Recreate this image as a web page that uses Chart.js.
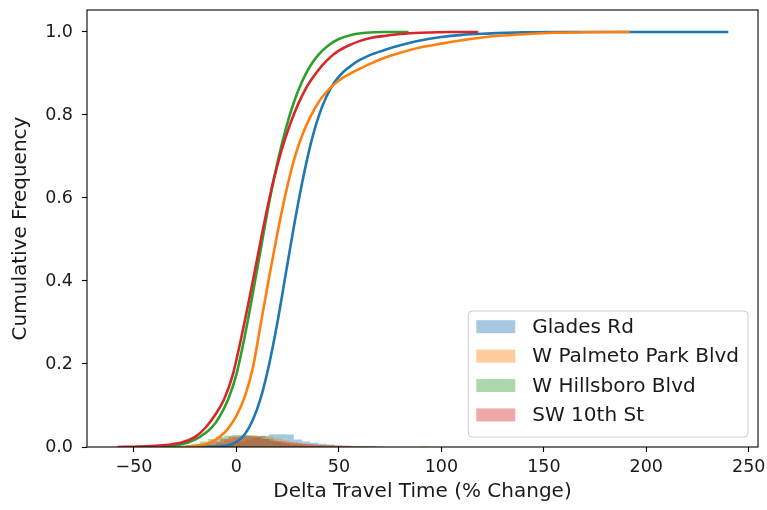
<!DOCTYPE html>
<html><head><meta charset="utf-8">
<script src="https://cdn.jsdelivr.net/npm/chart.js@4/dist/chart.umd.min.js"></script>
<style>html,body{margin:0;padding:0;background:#fff;} #wrap{width:767px;height:510px;position:relative;}</style>
</head><body><div id="wrap"><canvas id="c"></canvas></div>
<script>
// ---------- data ----------
const seriesLabels = ['Glades Rd', 'W Palmeto Park Blvd', 'W Hillsboro Blvd', 'SW 10th St'];
const xTitle = 'Delta Travel Time (% Change)';
const yTitle = 'Cumulative Frequency';
const xTickValues = [-50, 0, 50, 100, 150, 200, 250];
const yTickValues = [0, 0.2, 0.4, 0.6, 0.8, 1.0];

// cumulative curves
const gladesCdfX = [-18, -10, -4, 0, 4, 8, 12, 16, 20, 24, 28, 32, 36, 40, 44, 48, 52, 56, 60, 66, 73, 80, 89, 100, 110, 122, 140, 160, 200, 240];
const gladesCdfY = [0, 0.001, 0.004, 0.012, 0.03, 0.065, 0.12, 0.2, 0.3, 0.415, 0.53, 0.635, 0.725, 0.795, 0.845, 0.88, 0.903, 0.919, 0.932, 0.946, 0.958, 0.968, 0.979, 0.988, 0.993, 0.996, 0.999, 1.0, 1.0, 1.0];

const palmetoCdfX = [-25, -19, -13, -8, -4, 0, 4, 8, 12, 16, 20, 24, 28, 32, 36, 40, 44, 48, 52, 56, 60, 66, 73, 80, 89, 100, 110, 122, 138, 155, 170, 192];
const palmetoCdfY = [0, 0.003, 0.01, 0.025, 0.045, 0.075, 0.12, 0.19, 0.3, 0.41, 0.515, 0.61, 0.69, 0.75, 0.795, 0.83, 0.856, 0.875, 0.89, 0.901, 0.911, 0.925, 0.939, 0.95, 0.962, 0.972, 0.98, 0.988, 0.994, 0.998, 0.9995, 1.0];

const hillsboroCdfX = [-37, -30, -24, -18, -12, -8, -4, 0, 4, 8, 12, 16, 20, 24, 28, 32, 36, 40, 45, 50, 56, 63, 72, 84];
const hillsboroCdfY = [0, 0.003, 0.01, 0.024, 0.047, 0.075, 0.115, 0.175, 0.265, 0.37, 0.48, 0.59, 0.685, 0.765, 0.83, 0.88, 0.918, 0.945, 0.968, 0.983, 0.993, 0.998, 1.0, 1.0];

const tenthCdfX = [-58, -48, -40, -32, -26, -20, -15, -10, -6, -2, 2, 6, 10, 14, 18, 22, 26, 30, 34, 38, 42, 46, 50, 55, 60, 66, 73, 80, 90, 105, 118];
const tenthCdfY = [0, 0.001, 0.003, 0.006, 0.012, 0.025, 0.047, 0.08, 0.115, 0.17, 0.255, 0.35, 0.45, 0.55, 0.64, 0.715, 0.775, 0.825, 0.865, 0.895, 0.92, 0.94, 0.955, 0.968, 0.978, 0.986, 0.991, 0.995, 0.998, 1.0, 1.0];

// histograms (density): bin edges and bin heights
const gladesHistEdges = [-8, -4, 0, 4, 8, 12, 16, 20, 24, 28, 32, 36, 40, 44, 48, 52, 56, 60, 64, 68, 72];
const gladesHistDensity = [0.0005, 0.002, 0.006, 0.012, 0.018, 0.023, 0.027, 0.031, 0.031, 0.030, 0.018, 0.013, 0.010, 0.008, 0.006, 0.004, 0.003, 0.002, 0.002, 0.001];

const palmetoHistEdges = [-14, -10, -6, -2, 2, 6, 10, 14, 18, 22, 26, 30, 34, 38, 42, 46, 50, 54, 58, 62, 66, 70, 74, 78, 82, 86, 90, 94, 98];
const palmetoHistDensity = [0.002, 0.005, 0.011, 0.018, 0.023, 0.026, 0.027, 0.027, 0.025, 0.021, 0.016, 0.012, 0.009, 0.007, 0.005, 0.004, 0.003, 0.002, 0.002, 0.001, 0.001, 0.0005, 0, 0, 0, 0, 0, 0.002];

const hillsboroHistEdges = [-30, -26, -22, -18, -14, -10, -6, -2, 2, 6, 10, 14, 18, 22, 26, 30, 34, 38, 42, 46, 50, 54, 58, 62];
const hillsboroHistDensity = [0.001, 0.002, 0.004, 0.008, 0.013, 0.019, 0.024, 0.027, 0.029, 0.029, 0.028, 0.026, 0.02, 0.013, 0.009, 0.006, 0.004, 0.003, 0.002, 0.001, 0.001, 0.0005, 0.0005];

const tenthHistEdges = [-60, -56, -52, -48, -44, -40, -36, -32, -28, -24, -20, -16, -12, -8, -4, 0, 4, 8, 12, 16, 20, 24, 28, 32, 36, 40, 44, 48, 52, 56, 60, 64, 68, 72, 76];
const tenthHistDensity = [0.0002, 0.0002, 0.0002, 0.0003, 0.0003, 0.0004, 0.0005, 0.0007, 0.0015, 0.002, 0.004, 0.006, 0.008, 0.013, 0.02, 0.025, 0.026, 0.027, 0.025, 0.019, 0.015, 0.013, 0.011, 0.009, 0.007, 0.006, 0.005, 0.004, 0.003, 0.003, 0.002, 0.002, 0.002, 0.001];

// ---------- styling ----------
const seriesRGB = ['31,119,180', '255,127,14', '44,160,44', '214,39,40'];
const FONT = 'DejaVu Sans';
const TICK_FS = 17.5;
const LABEL_FS = 20;

const cdfX = [gladesCdfX, palmetoCdfX, hillsboroCdfX, tenthCdfX];
const cdfY = [gladesCdfY, palmetoCdfY, hillsboroCdfY, tenthCdfY];
const histE = [gladesHistEdges, palmetoHistEdges, hillsboroHistEdges, tenthHistEdges];
const histD = [gladesHistDensity, palmetoHistDensity, hillsboroHistDensity, tenthHistDensity];

const datasets = [];
seriesLabels.forEach((lab, i) => {
  datasets.push({
    label: lab,
    isHist: true,
    data: histE[i].map((e, k) => ({x: e, y: k < histD[i].length ? histD[i][k] : 0})),
    stepped: 'after',
    fill: 'origin',
    backgroundColor: 'rgba(' + seriesRGB[i] + ',0.4)',
    borderColor: 'rgba(0,0,0,0)',
    borderWidth: 0,
    pointRadius: 0,
    order: 20 - i
  });
});
seriesLabels.forEach((lab, i) => {
  datasets.push({
    label: lab + ' (cdf)',
    isHist: false,
    data: cdfX[i].map((x, k) => ({x: x, y: cdfY[i][k]})),
    borderColor: 'rgb(' + seriesRGB[i] + ')',
    borderWidth: 2.6,
    pointRadius: 0,
    fill: false,
    cubicInterpolationMode: 'monotone',
    order: 8 - i
  });
});

const framePlugin = {
  id: 'frame',
  afterDraw(chart) {
    const {ctx, chartArea: a} = chart;
    ctx.save();
    ctx.strokeStyle = '#000';
    ctx.lineWidth = 1.1;
    ctx.strokeRect(a.left, a.top, a.right - a.left, a.bottom - a.top);
    ctx.restore();
  }
};

const legendPlugin = {
  id: 'mplLegend',
  afterDraw(chart) {
    const {ctx, chartArea: a} = chart;
    const items = chart.data.datasets.filter(d => d.isHist);
    ctx.save();
    ctx.font = LABEL_FS + 'px "' + FONT + '"';
    const tw = Math.max(...items.map(d => ctx.measureText(d.label).width));
    const padL = 8, patchW = 39, patchH = 13, gap = 17, padR = 9, rowH = 29.4, padT = 15.7;
    const w = padL + patchW + gap + tw + padR;
    const h = 126;
    const x0 = a.right - 10 - w, y0 = a.bottom - 10 - h;
    ctx.beginPath();
    if (ctx.roundRect) ctx.roundRect(x0, y0, w, h, 4); else ctx.rect(x0, y0, w, h);
    ctx.fillStyle = 'rgba(255,255,255,0.8)';
    ctx.fill();
    ctx.strokeStyle = '#cccccc';
    ctx.lineWidth = 1;
    ctx.stroke();
    items.forEach((d, i) => {
      const cy = y0 + padT + i * rowH;
      ctx.fillStyle = d.backgroundColor;
      ctx.fillRect(x0 + padL, cy - patchH / 2, patchW, patchH);
      ctx.fillStyle = '#1a1a1a';
      ctx.textBaseline = 'middle';
      ctx.textAlign = 'left';
      ctx.fillText(d.label, x0 + padL + patchW + gap, cy + 1);
    });
    ctx.restore();
  }
};

Chart.defaults.font.family = FONT;
Chart.defaults.font.size = TICK_FS;
Chart.defaults.color = '#1a1a1a';

new Chart(document.getElementById('c'), {
  type: 'line',
  data: {datasets},
  plugins: [framePlugin, legendPlugin],
  options: {
    responsive: true,
    maintainAspectRatio: false,
    animation: false,
    devicePixelRatio: 1,
    layout: {padding: {top: 10, right: 9, left: 0, bottom: 0}},
    plugins: {legend: {display: false}, tooltip: {enabled: false}},
    scales: {
      x: {
        type: 'linear',
        min: -72.9, max: 254.5,
        afterBuildTicks: s => { s.ticks = xTickValues.map(v => ({value: v})); },
        ticks: {
          color: '#1a1a1a', padding: 5, maxRotation: 0, autoSkip: false,
          font: {size: TICK_FS, lineHeight: 1.2},
          callback: v => v < 0 ? '\u2212' + Math.abs(v) : String(v)
        },
        grid: {drawOnChartArea: false, drawTicks: true, tickLength: 5, color: '#000', tickColor: '#000', tickWidth: 1.1},
        border: {display: false},
        title: {display: true, text: xTitle, color: '#1a1a1a', font: {size: LABEL_FS, lineHeight: 1.2}, padding: {top: 0, bottom: 6}},
        afterFit: s => { s.height = 63; s.paddingLeft = 0; s.paddingRight = 0; }
      },
      y: {
        type: 'linear',
        min: 0, max: 1.053,
        afterBuildTicks: s => { s.ticks = yTickValues.map(v => ({value: v})); },
        ticks: {
          color: '#1a1a1a', padding: 9,
          font: {size: TICK_FS, lineHeight: 1.2},
          callback: v => Number(v).toFixed(1)
        },
        grid: {drawOnChartArea: false, drawTicks: true, tickLength: 5, color: '#000', tickColor: '#000', tickWidth: 1.1},
        border: {display: false},
        title: {display: true, text: yTitle, color: '#1a1a1a', font: {size: LABEL_FS, lineHeight: 1.2}, padding: {top: 8.5, bottom: 0}},
        afterFit: s => { s.width = 87; s.paddingTop = 0; s.paddingBottom = 0; }
      }
    }
  }
});
</script></body></html>
